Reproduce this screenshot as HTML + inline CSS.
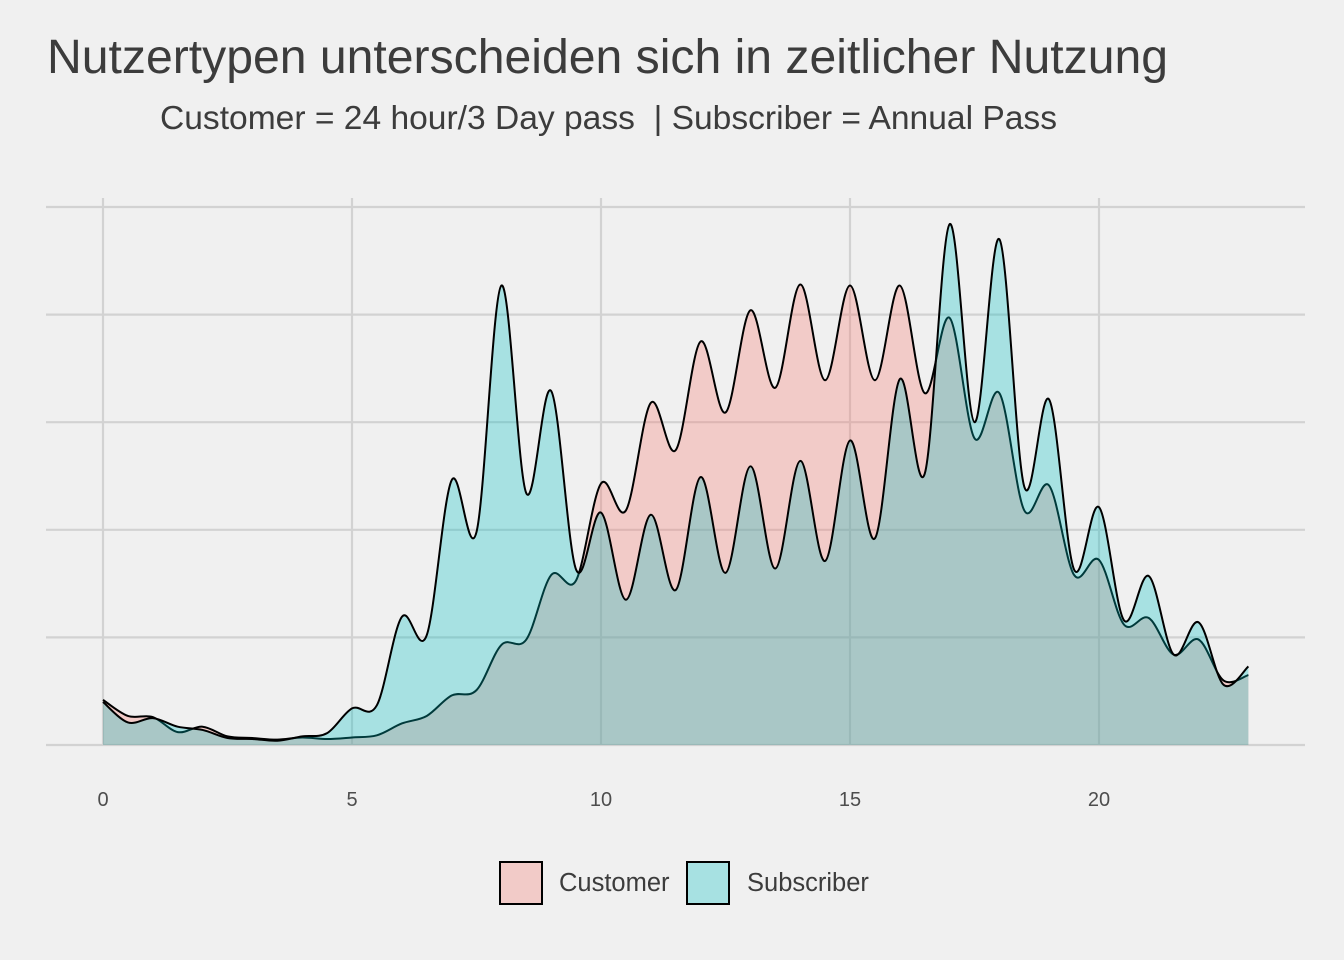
<!DOCTYPE html>
<html><head><meta charset="utf-8"><style>
body{margin:0;background:#F0F0F0;}
svg{display:block;font-family:"Liberation Sans",sans-serif;}
</style></head><body>
<svg id="chart" width="1344" height="960">
<rect width="1344" height="960" fill="#F0F0F0"/>
<text x="47" y="73" font-size="48" textLength="1121" lengthAdjust="spacingAndGlyphs" fill="#3C3C3C">Nutzertypen unterscheiden sich in zeitlicher Nutzung</text>
<text x="160" y="129" font-size="33" xml:space="preserve" textLength="897" lengthAdjust="spacingAndGlyphs" fill="#3C3C3C">Customer = 24 hour/3 Day pass  | Subscriber = Annual Pass</text>
<g id="grid"></g>
<g id="areas"></g>
<g id="xticks"></g>
<g>
<rect x="500" y="862" width="42" height="42" fill="#F8766D" fill-opacity="0.3" stroke="#000" stroke-width="2"/>
<text x="559" y="891" font-size="25.5" fill="#3C3C3C">Customer</text>
<rect x="687" y="862" width="42" height="42" fill="#00BFC4" fill-opacity="0.3" stroke="#000" stroke-width="2"/>
<text x="747" y="891" font-size="25.5" fill="#3C3C3C">Subscriber</text>
</g>
</svg>
<script>
const hours=[0,0.5,1,1.5,2,2.5,3,3.5,4,4.5,5,5.5,6,6.5,7,7.5,8,8.5,9,9.5,10,10.5,11,11.5,12,12.5,13,13.5,14,14.5,15,15.5,16,16.5,17,17.5,18,18.5,19,19.5,20,20.5,21,21.5,22,22.5,23];
const customer=[0.42,0.27,0.26,0.12,0.17,0.08,0.065,0.05,0.07,0.056,0.07,0.09,0.20,0.27,0.46,0.51,0.93,0.98,1.58,1.53,2.43,2.18,3.18,2.74,3.75,3.09,4.04,3.32,4.28,3.39,4.27,3.39,4.27,3.27,3.97,2.85,3.27,2.18,2.41,1.58,1.72,1.12,1.18,0.84,0.98,0.60,0.65];
const subscriber=[0.40,0.21,0.25,0.17,0.14,0.065,0.056,0.04,0.08,0.11,0.34,0.37,1.19,1.02,2.46,1.98,4.27,2.34,3.29,1.63,2.16,1.35,2.14,1.44,2.49,1.60,2.59,1.64,2.64,1.71,2.83,1.92,3.40,2.52,4.84,3.00,4.70,2.40,3.21,1.63,2.21,1.16,1.57,0.84,1.14,0.56,0.73];
const xTicks=[0,5,10,15,20];
const yGrid=[0,1,2,3,4,5];
const NS="http://www.w3.org/2000/svg";
const X=h=>103+h*49.8;
const Y=v=>745-v*107.6;
const grid=document.getElementById('grid');
function mk(tag,attrs,parent){const e=document.createElementNS(NS,tag);for(const k in attrs)e.setAttribute(k,attrs[k]);parent.appendChild(e);return e;}
yGrid.forEach(v=>{const l=mk('line',{x1:46,x2:1305,y1:Y(v),y2:Y(v),stroke:'#D2D2D2','stroke-width':2.2},grid);

});
const xt=document.getElementById('xticks');
xTicks.forEach(t=>{const l=mk('line',{x1:X(t),x2:X(t),y1:198,y2:745,stroke:'#D2D2D2','stroke-width':2.2},grid);


const tx=mk('text',{x:X(t),y:806,'font-size':20,fill:'#4D4D4D','text-anchor':'middle'},xt);tx.textContent=t;

});
function curve(vals){
 const p=hours.map((h,i)=>[X(h),Y(vals[i])]);
 let d='M'+p[0][0]+','+p[0][1];
 for(let i=0;i<p.length-1;i++){
  const p0=p[Math.max(0,i-1)],p1=p[i],p2=p[i+1],p3=p[Math.min(p.length-1,i+2)];
  const c1=[p1[0]+(p2[0]-p0[0])/6,p1[1]+(p2[1]-p0[1])/6];
  const c2=[p2[0]-(p3[0]-p1[0])/6,p2[1]-(p3[1]-p1[1])/6];
  d+=`C${c1[0]},${Math.min(745,c1[1])} ${c2[0]},${Math.min(745,c2[1])} ${p2[0]},${p2[1]}`;
 }
 return d;
}
const areas=document.getElementById('areas');
[[customer,'#F8766D','customer-area'],[subscriber,'#00BFC4','subscriber-area']].forEach(([vals,col,name])=>{
 const c=curve(vals);
 const f=mk('path',{d:c+`L${X(hours[hours.length-1])},745L${X(hours[0])},745Z`,fill:col,'fill-opacity':0.3,stroke:'none'},areas);
 
 
 const l=mk('path',{d:c,fill:'none',stroke:'#000','stroke-width':2},areas);
 
 
});
</script>
</body></html>
